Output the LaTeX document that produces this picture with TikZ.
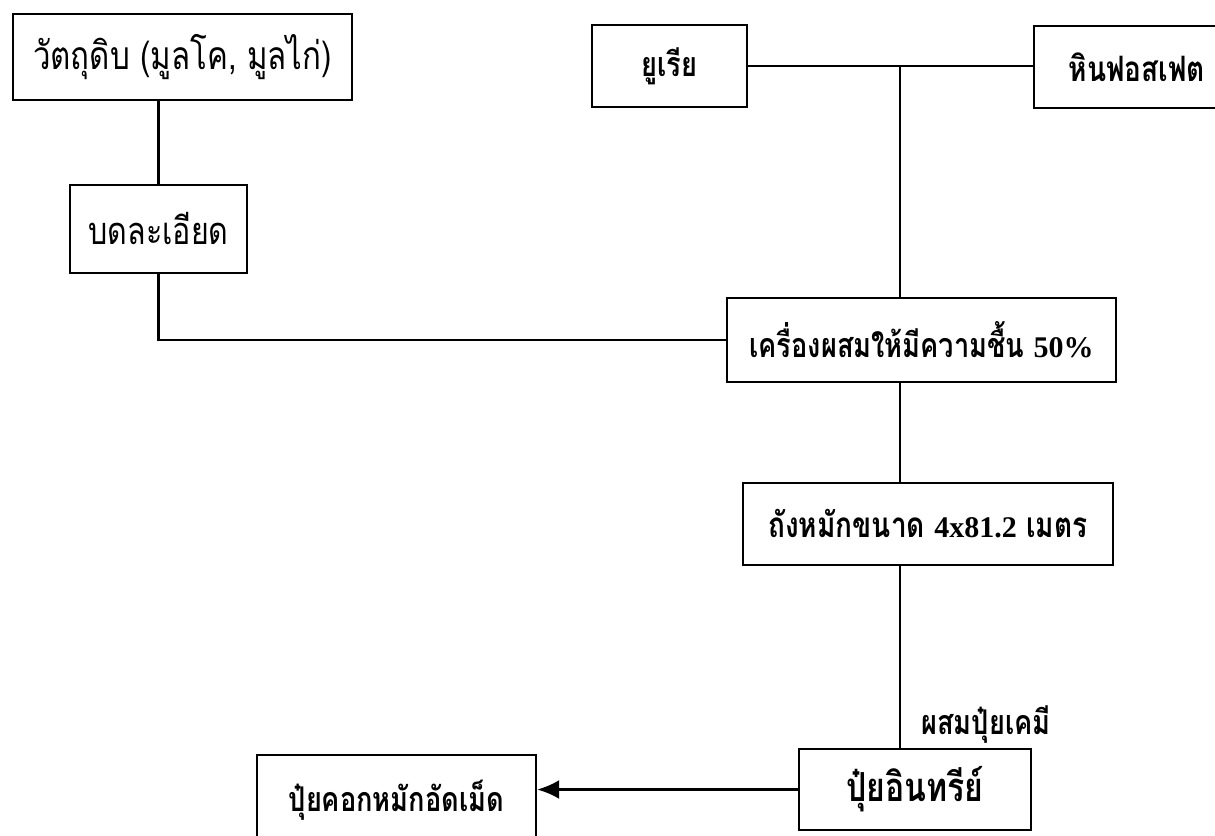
\documentclass[tikz,border=0pt]{standalone}
\usepackage{fontspec}
\newfontfamily\thai[Script=Thai,FakeStretch=0.8]{Loma}
\newfontfamily\tnr{Liberation Serif}
\usetikzlibrary{arrows.meta}
\newcommand{\fs}[1]{\fontsize{#1}{#1}\selectfont}
\begin{document}
\begin{tikzpicture}[x=1pt,y=-1pt,
  box/.style={draw=black, line width=2.4pt, rectangle, inner sep=0pt},
  conn/.style={draw=black, line width=2.4pt},
  lbl/.style={inner sep=0pt}]
\useasboundingbox (0,0) rectangle (1215,835);
\node[box, minimum width=339pt, minimum height=86pt, font=\thai\fs{39}] (raw) at (182.5,57) {วัตถุดิบ (มูลโค, มูลไก่)};
\node[box, minimum width=177pt, minimum height=88pt, font=\thai\fs{38}] (grind) at (158.5,229) {บดละเอียด};
\node[box, minimum width=155pt, minimum height=82pt, font=\thai\bfseries\fs{34}] (urea) at (669.5,66) {ยูเรีย};
\node[box, minimum width=206pt, minimum height=82pt, font=\thai\bfseries\fs{35}] (rock) at (1137,67) {หินฟอสเฟต};
\node[box, minimum width=389pt, minimum height=84pt, font=\thai\bfseries\fs{34}] (mixer) at (921.5,340) {เครื่องผสมให้มีความชื้น {\tnr\bfseries\fs{30}50\%}};
\node[box, minimum width=370pt, minimum height=82pt, font=\thai\bfseries\fs{35}] (tank) at (928,524) {ถังหมักขนาด {\tnr\bfseries\fs{30}4x81.2} เมตร};
\node[box, minimum width=232pt, minimum height=81pt, font=\thai\bfseries\fs{40}] (org) at (915,789.5) {ปุ๋ยอินทรีย์};
\node[box, minimum width=279pt, minimum height=90pt, font=\thai\bfseries\fs{34}] (pellet) at (396.5,800) {ปุ๋ยคอกหมักอัดเม็ด};
\node[lbl, font=\thai\bfseries\fs{34}] (mixlbl) at (986,725) {ผสมปุ๋ยเคมี};
\coordinate (jt) at (900,67);
\draw[conn] (raw.south -| grind.north) -- (grind.north);
\draw[conn] (grind.south) -- (grind.south |- mixer.west) -- (mixer.west);
\draw[conn] (urea.east) -- (urea.east -| rock.west);
\draw[conn] (jt |- urea.east) -- (jt |- mixer.north);
\draw[conn] (jt |- mixer.south) -- (jt |- tank.north);
\draw[conn] (jt |- tank.south) -- (jt |- org.north);
\draw[conn, -{Latex[length=22pt,width=19pt]}] (org.west) -- (org.west -| pellet.east);
\end{tikzpicture}
\end{document}
